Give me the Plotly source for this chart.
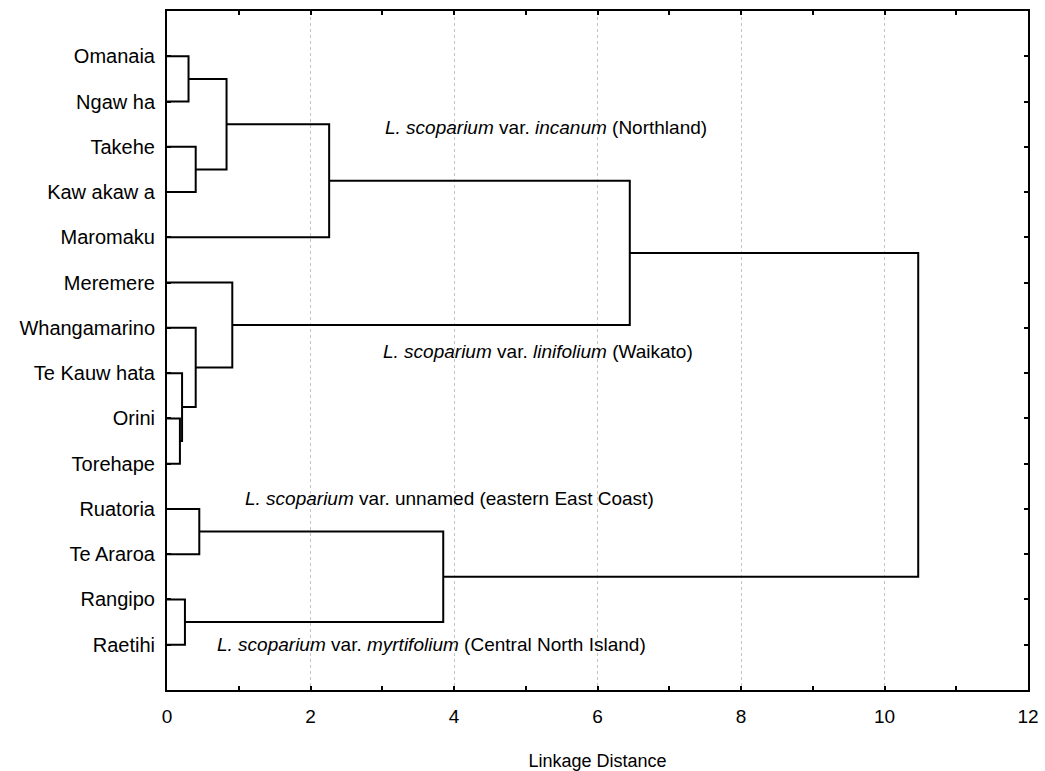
import plotly.graph_objects as go

# leaves, top to bottom
leaves = ['Omanaia', 'Ngaw ha', 'Takehe', 'Kaw akaw a', 'Maromaku',
          'Meremere', 'Whangamarino', 'Te Kauw hata', 'Orini', 'Torehape',
          'Ruatoria', 'Te Araroa', 'Rangipo', 'Raetihi']

# merges: node ids 0..13 are leaves, new clusters get 14, 15, ...
merge_left = [0, 2, 14, 16, 8, 7, 6, 5, 17, 10, 12, 23, 22]
merge_right = [1, 3, 15, 4, 9, 18, 19, 20, 21, 11, 13, 24, 25]
merge_height = [0.30, 0.40, 0.83, 2.26, 0.18, 0.21, 0.40, 0.91, 6.45, 0.45, 0.25, 3.85, 10.47]

group_text = ['<i>L. scoparium</i> var. <i>incanum</i> (Northland)',
              '<i>L. scoparium</i> var. <i>linifolium</i> (Waikato)',
              '<i>L. scoparium</i> var. unnamed (eastern East Coast)',
              '<i>L. scoparium</i> var. <i>myrtifolium</i> (Central North Island)']
group_x = [3.01, 2.98, 1.06, 0.67]
group_y = [2.57, 7.53, 10.76, 14.0]

x_ticks = [0, 2, 4, 6, 8, 10, 12]

# node positions: leaf index on y (1..14), linkage distance on x
node_y = [i + 1 for i in range(len(leaves))]
node_h = [0.0] * len(leaves)
xs, ys = [], []
for a, b, h in zip(merge_left, merge_right, merge_height):
    xs += [node_h[a], h, h, node_h[b], None]
    ys += [node_y[a], node_y[a], node_y[b], node_y[b], None]
    node_y.append((node_y[a] + node_y[b]) / 2)
    node_h.append(h)

fig = go.Figure(go.Scatter(x=xs, y=ys, mode='lines',
                           line=dict(color='black', width=2),
                           hoverinfo='skip', showlegend=False))

for t, x, y in zip(group_text, group_x, group_y):
    fig.add_annotation(x=x, y=y, text=t, showarrow=False, xanchor='left',
                       yanchor='middle', font=dict(size=19, color='black'))

fig.update_layout(
    width=1045, height=771,
    margin=dict(l=167, r=17, t=11, b=81),
    plot_bgcolor='white', paper_bgcolor='white',
    font=dict(family='Liberation Sans, Arial, sans-serif', color='black', size=19),
)
fig.update_xaxes(range=[0, 12], tickvals=x_ticks, ticks='inside', ticklen=4,
                 tickwidth=2, tickcolor='black',
                 minor=dict(dtick=1, ticks='inside', ticklen=4, tickwidth=2,
                            tickcolor='black', showgrid=False),
                 showline=True, linecolor='black', linewidth=2, mirror='ticks',
                 showgrid=True, gridcolor='#c4c4c4', griddash='dot', gridwidth=1,
                 zeroline=False, ticklabelstandoff=8, automargin=False,
                 title=dict(text='Linkage Distance', font=dict(size=18), standoff=29))
fig.update_yaxes(range=[15, 0], tickvals=list(range(1, len(leaves) + 1)),
                 ticktext=leaves, ticks='inside', ticklen=4, tickwidth=2,
                 tickcolor='black', showline=True, linecolor='black', linewidth=2,
                 mirror='ticks', showgrid=False, zeroline=False, automargin=False,
                 tickfont=dict(size=20), ticklabelstandoff=6)

fig.write_html("out.html", config={'displayModeBar': False},
               post_script="document.body.style.margin='0';")
